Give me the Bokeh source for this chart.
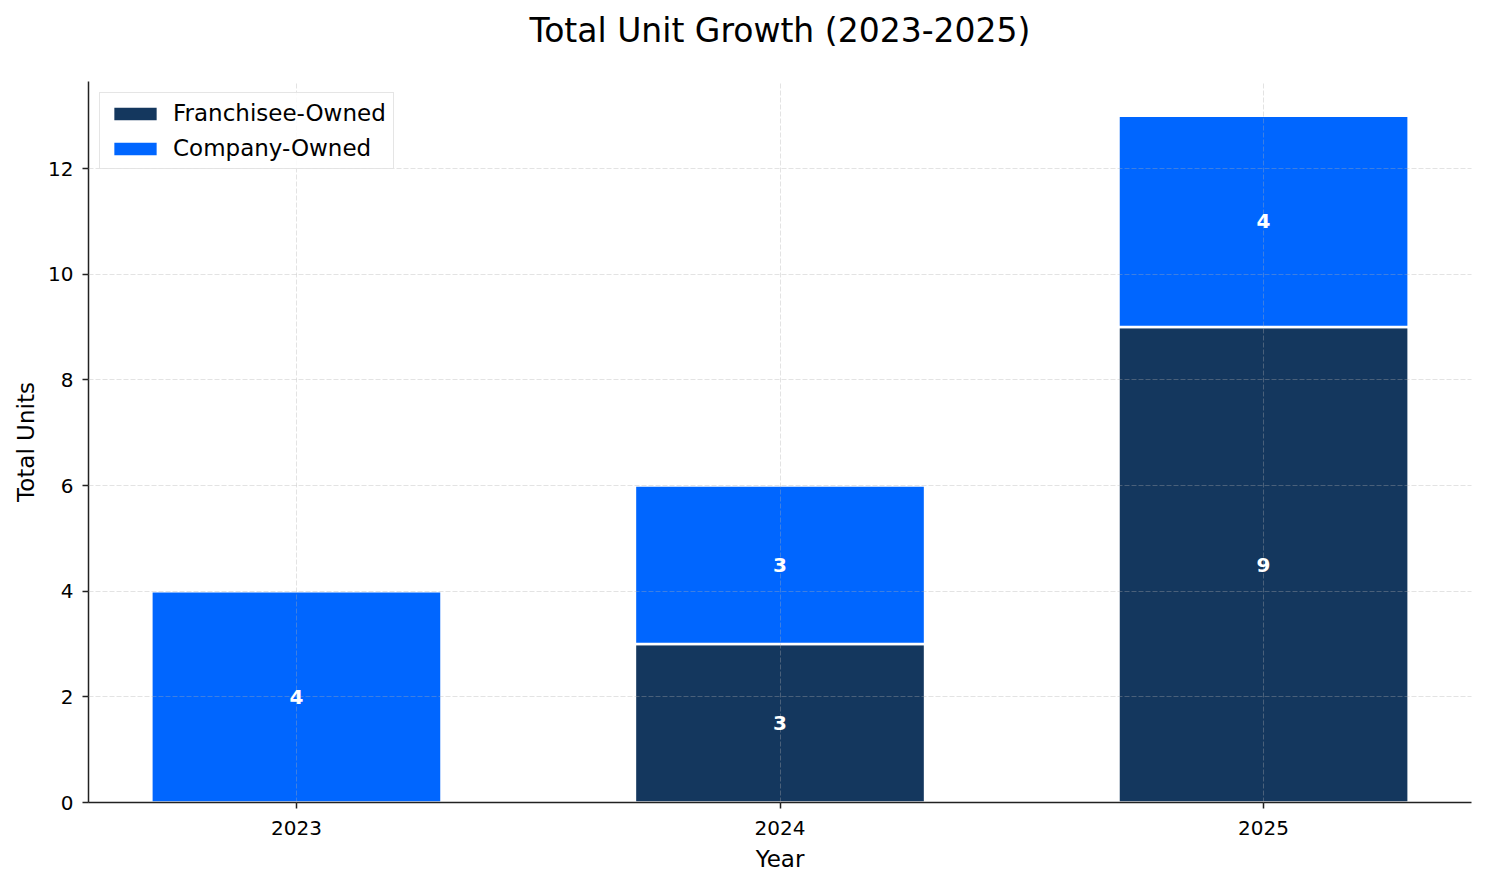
from bokeh.plotting import figure
from bokeh.models import ColumnDataSource, FixedTicker, Range1d, Legend, LegendItem
from bokeh.core.properties import value
from bokeh.embed import file_html
from bokeh.resources import INLINE

years = ["2023", "2024", "2025"]
franchisee = [0, 3, 9]
company = [4, 3, 4]
series_names = ["Franchisee-Owned", "Company-Owned"]
colors = ["#14375e", "#0066ff"]
y_ticks = [0, 2, 4, 6, 8, 10, 12]
title_text = "Total Unit Growth (2023-2025)"

xs = list(range(len(years)))
totals = [f + c for f, c in zip(franchisee, company)]

src = ColumnDataSource(dict(x=xs, f=franchisee, c=company))

FONT = "DejaVu Sans"
FRAME_W, FRAME_H = 1383, 721
p = figure(width=88 + FRAME_W + 7, height=81 + FRAME_H + 74,
           output_backend="svg", toolbar_location=None,
           x_range=Range1d(-0.43, 2.43), y_range=Range1d(0, max(totals) * 1.05),
           min_border_left=88, min_border_right=7, min_border_top=81, min_border_bottom=74)
p.outline_line_color = None

p.title.text = title_text
p.title.align = "center"
p.title.text_font = FONT
p.title.text_font_size = "33px"
p.title.text_font_style = "normal"
p.title.text_color = "#000000"
p.title.standoff = 0
p.title.padding = dict(top=0, right=0, bottom=32, left=0)

rs = p.vbar_stack(["f", "c"], x="x", width=0.6, source=src, color=colors,
                  line_color="white", line_width=2.5)

# value labels
lx, ly, lt = [], [], []
for i in xs:
    base = 0
    for v in (franchisee[i], company[i]):
        if v > 0:
            lx.append(i)
            ly.append(base + v / 2)
            lt.append(str(v))
        base += v
tr = p.text(x=lx, y=ly, text=lt, text_color="white", text_font=value(FONT),
            text_font_size="20px", text_font_style="bold",
            text_align="center", text_baseline="middle")
tr.level = "annotation"

for ax in (p.xaxis, p.yaxis):
    ax.axis_line_color = "#222222"
    ax.axis_line_width = 1.5
    ax.major_tick_line_color = "#222222"
    ax.major_tick_line_width = 1.5
    ax.major_tick_out = 6
    ax.major_tick_in = 0
    ax.minor_tick_line_color = None
    ax.major_label_text_font = FONT
    ax.major_label_text_font_size = "20px"
    ax.major_label_text_color = "#000000"
    ax.axis_label_text_font = FONT
    ax.axis_label_text_font_size = "23px"
    ax.axis_label_text_font_style = "normal"
    ax.axis_label_text_color = "#000000"

p.xaxis.ticker = FixedTicker(ticks=xs)
p.xaxis.major_label_overrides = {i: y for i, y in enumerate(years)}
p.xaxis.axis_label = "Year"
p.xaxis.major_label_standoff = 12
p.xaxis.axis_label_standoff = 8
p.yaxis.ticker = FixedTicker(ticks=y_ticks)
p.yaxis.axis_label = "Total Units"
p.yaxis.major_label_standoff = 9
p.yaxis.axis_label_standoff = 6

for g in (p.xgrid, p.ygrid):
    g.grid_line_color = "#b0b0b0"
    g.grid_line_alpha = 0.35
    g.grid_line_dash = "5 2"
    g.grid_line_width = 1
    g.level = "guide"

legend = Legend(items=[LegendItem(label=series_names[0], renderers=[rs[0]]),
                       LegendItem(label=series_names[1], renderers=[rs[1]])],
                location="top_left")
legend.label_text_font = FONT
legend.label_text_font_size = "23px"
legend.label_text_color = "#000000"
legend.glyph_width = 56
legend.glyph_height = 19
legend.label_standoff = 10
legend.spacing = 9
legend.padding = 7
legend.margin = 11
legend.border_line_color = "#cccccc"
legend.border_line_width = 1.5
legend.background_fill_alpha = 0.85
p.add_layout(legend)

open("out.html", "w").write(file_html(p, INLINE))
